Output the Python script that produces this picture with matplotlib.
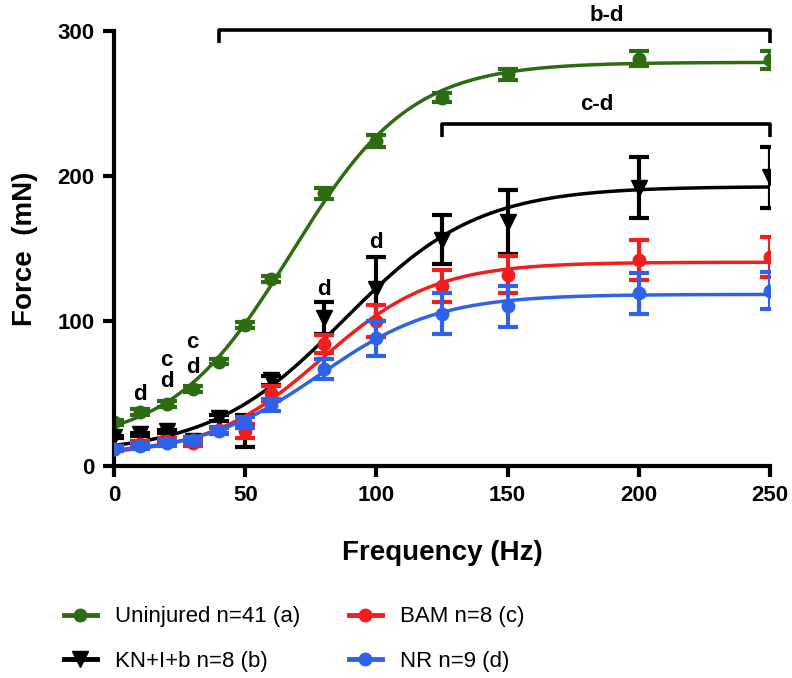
import numpy as np
import matplotlib
matplotlib.use('Agg')
import matplotlib.pyplot as plt

plt.rcParams['font.family'] = ['Liberation Sans', 'DejaVu Sans']

freq = [0, 10, 20, 30, 40, 50, 60, 80, 100, 125, 150, 200, 250]

uninjured = [30, 37, 43, 53, 72, 97, 129, 188, 224, 254, 270, 281, 280]
uninjured_err = [2, 2, 2, 2, 2, 2, 2, 4, 4, 3, 4, 5, 6]

kn = [20, 22, 24, 17, 33, 24, 59, 102, 122, 156, 168, 192, 199]
kn_err = [1, 1, 1, 1, 2, 11, 3, 11, 22, 17, 22, 21, 21]

bam = [12, 15, 17, 16, 25, 24, 50, 84, 100, 124, 132, 142, 144]
bam_err = [2, 2, 2, 2, 2, 5, 5, 6, 11, 11, 13, 14, 14]

nr = [12, 14, 16, 18, 24, 30, 42, 67, 88, 105, 110, 119, 121]
nr_err = [2, 2, 2, 2, 2, 4, 4, 7, 12, 14, 14, 14, 13]

labels = ['Uninjured n=41 (a)', 'KN+I+b n=8 (b)', 'BAM n=8 (c)', 'NR n=9 (d)']
colors = ['#2e6b12', 'black', '#f01e1e', '#2f62e8']
markers = ['o', 'v', 'o', 'o']

# significance letters above points
sig_x = [10, 20, 20, 30, 30, 80, 100]
sig_y = [49, 73, 58, 85, 68, 122, 154]
sig_txt = ['d', 'c', 'd', 'c', 'd', 'd', 'd']


def fit_sigmoid(x, y):
    # grid search on midpoint/slope, linear least squares for bottom/top
    x = np.asarray(x, float)
    y = np.asarray(y, float)
    x50 = np.arange(20, 160, 0.5)[:, None, None]
    s = np.arange(4, 60, 0.25)[None, :, None]
    g = 1.0 / (1.0 + np.exp((x50 - x[None, None, :]) / s))
    h = 1.0 - g
    a = (h * h).sum(-1)
    b = (h * g).sum(-1)
    c = (g * g).sum(-1)
    r1 = (h * y).sum(-1)
    r2 = (g * y).sum(-1)
    det = a * c - b * b
    bot = (c * r1 - b * r2) / det
    top = (a * r2 - b * r1) / det
    pred = bot[..., None] * h + top[..., None] * g
    sse = ((pred - y) ** 2).sum(-1)
    i, j = np.unravel_index(np.argmin(sse), sse.shape)
    return bot[i, j], top[i, j], x50[i, 0, 0], s[0, j, 0]


fig = plt.figure(figsize=(7.92, 6.78), dpi=100)
ax = fig.add_axes([0.144, 0.3127, 0.828, 0.6416])

xs = np.linspace(0, 250, 400)
series = [(uninjured, uninjured_err), (kn, kn_err), (bam, bam_err), (nr, nr_err)]
order = [1, 2, 3, 0]
handles = [None] * 4
for k in order:
    y, e = series[k]
    ms = 11 if markers[k] == 'v' else 9
    bot, top, x50, sl = fit_sigmoid(freq, y)
    ax.plot(xs, bot + (top - bot) / (1 + np.exp((x50 - xs) / sl)),
            color=colors[k], lw=2.5, zorder=2 + k)
    ax.errorbar(freq, y, yerr=e, fmt='none', ecolor=colors[k],
                elinewidth=3, capsize=7, capthick=3, zorder=2 + k)
    ax.plot(freq, y, linestyle='none', marker=markers[k], color=colors[k],
            markersize=ms, zorder=2 + k)
    handles[k], = ax.plot([], [], color=colors[k], lw=3.5, marker=markers[k],
                          markersize=ms)

for xx, yy, tt in zip(sig_x, sig_y, sig_txt):
    ax.text(xx, yy, tt, ha='center', va='center', fontsize=16, fontweight='bold')

# brackets
def bracket(x0, x1, y, txt, tx, ty):
    ax.plot([x0, x0, x1, x1], [y - 9, y, y, y - 9], color='black', lw=2.6,
            clip_on=False, solid_capstyle='butt')
    ax.text(tx, ty, txt, ha='center', va='center', fontsize=16,
            fontweight='bold', clip_on=False)

bracket(40, 250, 301, 'b-d', 188, 311)
bracket(125, 250, 236, 'c-d', 184, 249)

ax.set_xlim(0, 250)
ax.set_ylim(0, 300)
ax.set_xticks([0, 50, 100, 150, 200, 250])
ax.set_yticks([0, 100, 200, 300])
ax.spines['top'].set_visible(False)
ax.spines['right'].set_visible(False)
for sp in ['left', 'bottom']:
    ax.spines[sp].set_linewidth(3)
ax.tick_params(width=3, length=8, labelsize=16, pad=6)
for lab in ax.get_xticklabels() + ax.get_yticklabels():
    lab.set_fontweight('bold')
ax.set_xlabel('Frequency (Hz)', fontsize=20, fontweight='bold', labelpad=24)
ax.set_ylabel('Force  (mN)', fontsize=20, fontweight='bold', labelpad=14)

fig.legend(handles, labels, ncol=2, loc='upper left',
           bbox_to_anchor=(0.055, 0.135), frameon=False, fontsize=16,
           handlelength=1.5, columnspacing=2.2, labelspacing=1.05,
           handletextpad=0.8)

fig.savefig('out.png', dpi=100)
